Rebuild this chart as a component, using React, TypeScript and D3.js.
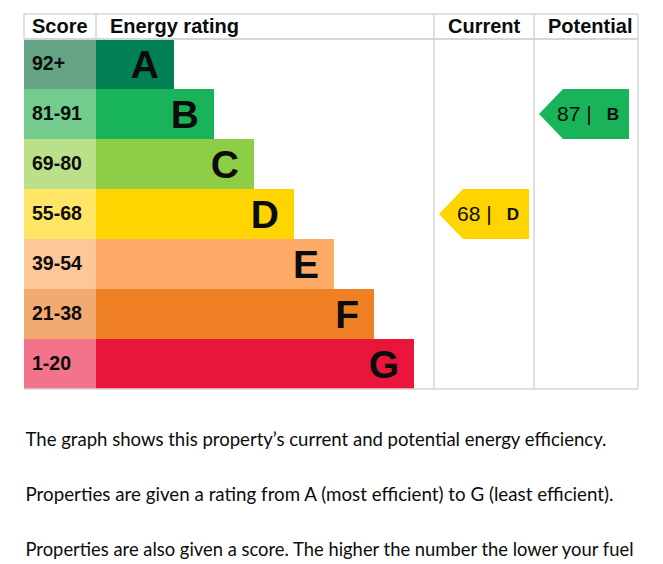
import React from "react";
import * as d3 from "d3";

const bands = ["A", "B", "C", "D", "E", "F", "G"];
const scoreRanges = ["92+", "81-91", "69-80", "55-68", "39-54", "21-38", "1-20"];
const bandMins = [92, 81, 69, 55, 39, 21, 1];
const barColors = ["#008054", "#19b459", "#8dce46", "#ffd500", "#fcaa65", "#ef8023", "#e9153b"];
const scoreColors = ["#64a485", "#73cc8e", "#bbe08a", "#ffe566", "#fec79a", "#f3aa70", "#f3748a"];
const columnTitles = ["Score", "Energy rating", "Current", "Potential"];
const currentScore = 68;
const potentialScore = 87;
const paragraphs = [
  "The graph shows this property\u2019s current and potential energy efficiency.",
  "Properties are given a rating from A (most efficient) to G (least efficient).",
  "Properties are also given a score. The higher the number the lower your fuel",
];
const paragraphWidths = [581, 588, 608];

const W = 663;
const H = 564;
const left = 24;
const scoreRight = 96;
const curLeft = 434;
const potLeft = 534;
const right = 638;
const top = 14;
const headBottom = 39;
const bottom = 389;
const grid = "#d6d6d6";
const font = "'Liberation Sans', Arial, sans-serif";

function bandOf(score: number) {
  const i = bandMins.findIndex((m) => score >= m);
  return i < 0 ? bands.length - 1 : i;
}

export default function App() {
  const y = d3.scaleBand<string>().domain(bands).range([headBottom, bottom]).padding(0);
  const barEnd = d3.scaleLinear().domain([0, bands.length - 1]).range([174, 414]);
  const rowH = y.bandwidth();

  const arrow = (colL: number, score: number, color: string) => {
    const b = bands[bandOf(score)];
    const y0 = y(b)!;
    const yc = y0 + rowH / 2;
    const x0 = colL + 5;
    const x1 = x0 + 90;
    const p = d3.path();
    p.moveTo(x0, yc);
    p.lineTo(x0 + rowH / 2 - 1, y0);
    p.lineTo(x1, y0);
    p.lineTo(x1, y0 + rowH);
    p.lineTo(x0 + rowH / 2 - 1, y0 + rowH);
    p.closePath();
    return (
      <g>
        <path d={p.toString()} fill={color} />
        <text x={x0 + 18} y={yc} dy="0.35em" fontFamily={font} fontSize={21} fill="#0b0c0c">
          {score} |
        </text>
        <text x={x1 - 10} y={yc} dy="0.36em" textAnchor="end" fontFamily={font} fontWeight="bold" fontSize={17} fill="#0b0c0c">
          {b}
        </text>
      </g>
    );
  };

  const headerX = [32, scoreRight + 14, curLeft + 14, potLeft + 14];

  return (
    <svg width={W} height={H} style={{ position: "absolute", left: 0, top: 0, background: "#fff" }}>
      <rect width={W} height={H} fill="#fff" />
      {bands.map((b, i) => (
        <g key={b}>
          <rect x={left} y={y(b)} width={scoreRight - left} height={rowH} fill={scoreColors[i]} />
          <rect x={scoreRight} y={y(b)} width={barEnd(i) - scoreRight} height={rowH} fill={barColors[i]} />
          <text x={32} y={y(b)! + rowH / 2 - 1} dy="0.36em" fontFamily={font} fontWeight="bold" fontSize={19.5} fill="#0b0c0c">
            {scoreRanges[i]}
          </text>
          <text x={barEnd(i) - 15} y={y(b)! + rowH / 2} dy="0.36em" textAnchor="end" fontFamily={font} fontWeight="bold" fontSize={39} fill="#0b0c0c">
            {b}
          </text>
        </g>
      ))}
      <g stroke={grid} strokeWidth={1.5} fill="none">
        <line x1={left} x2={right} y1={top} y2={top} />
        <line x1={left} x2={right} y1={headBottom} y2={headBottom} strokeWidth={2} />
        <line x1={left} x2={right} y1={bottom} y2={bottom} />
        <line x1={left} x2={left} y1={top} y2={headBottom} />
        <line x1={scoreRight} x2={scoreRight} y1={top} y2={headBottom} />
        <line x1={curLeft} x2={curLeft} y1={top} y2={bottom} />
        <line x1={potLeft} x2={potLeft} y1={top} y2={bottom} />
        <line x1={right} x2={right} y1={top} y2={bottom} />
      </g>
      {columnTitles.map((t, i) => (
        <text key={t} x={headerX[i]} y={33} fontFamily={font} fontWeight="bold" fontSize={20} fill="#0b0c0c">
          {t}
        </text>
      ))}
      {arrow(curLeft, currentScore, barColors[bandOf(currentScore)])}
      {arrow(potLeft, potentialScore, barColors[bandOf(potentialScore)])}
      {paragraphs.map((t, i) => (
        <text key={i} x={25.5} y={445.5 + i * 55} fontFamily="Lato, 'Noto Sans', sans-serif" fontSize={19} fill="#0b0c0c" textLength={paragraphWidths[i]} lengthAdjust="spacingAndGlyphs">
          {t}
        </text>
      ))}
    </svg>
  );
}
